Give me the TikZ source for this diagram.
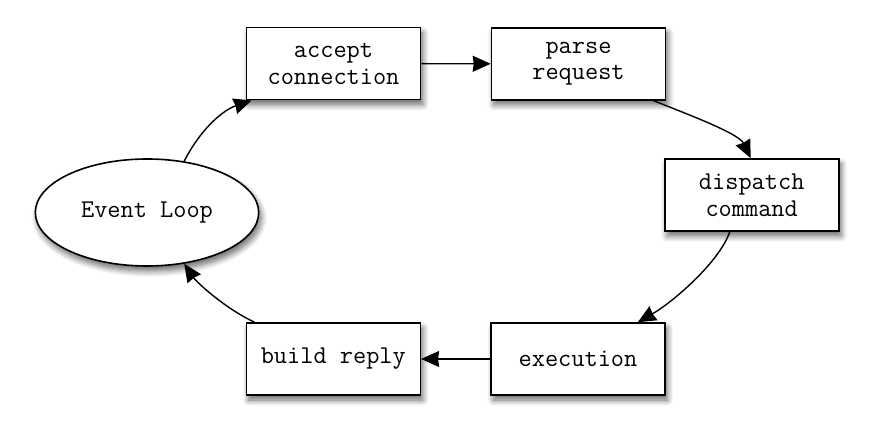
\documentclass[tikz,border=0pt]{standalone}
\usetikzlibrary{shapes.geometric,shadows.blur,arrows.meta}
\tikzset{
  stage/.style={draw, fill=white, line width=0.8pt, minimum width=87pt, minimum height=36pt,
    inner sep=0pt, align=center, font=\ttfamily\fontsize{12.8}{13.4}\selectfont,
    blur shadow={shadow xshift=1.2pt, shadow yshift=-2.5pt, shadow blur steps=8, shadow blur radius=3pt, shadow opacity=60}},
  loopnode/.style={stage, ellipse, minimum width=111.7pt, minimum height=53.5pt},
  flow/.style={->, line width=0.7pt}
}
\begin{document}
\begin{tikzpicture}[x=0.5pt, y=-0.5pt, >={Stealth[length=9pt,width=8pt,inset=0.5pt]}]
        \useasboundingbox (0,0) rectangle (873,437);
        % nodes
        \node[loopnode] (loop) at (147,212.5) {Event Loop};
        \node[stage] (accept) at (333.5,63.7) {accept\\connection};
        \node[stage] (parse) at (578.5,63.8) {parse\\request};
        \node[stage] (dispatch) at (751.7,195) {dispatch\\command};
        \node[stage] (execution) at (578,359) {execution};
        \node[stage] (build) at (333.3,359) {build reply};
        % connectors
        \draw[flow] (loop.54) .. controls +(15,-30) and +(-30,10) .. ([xshift=3pt]accept.south west);
        \draw[flow] (accept.east) -- (parse.west);
        \draw[flow] ([xshift=-6.5pt]parse.south east) .. controls +(30,12) and +(-12,-25) .. ([xshift=-0.5pt]dispatch.north);
        \draw[flow] ([xshift=-11pt]dispatch.south) .. controls +(-10,30) and +(35,-20) .. ([xshift=-14pt]execution.north east);
        \draw[flow] (execution.west) -- (build.east);
        \draw[flow] ([xshift=4.5pt]build.north west) .. controls +(-30,-14) and +(12,18) .. (loop.-54);
\end{tikzpicture}
\end{document}
